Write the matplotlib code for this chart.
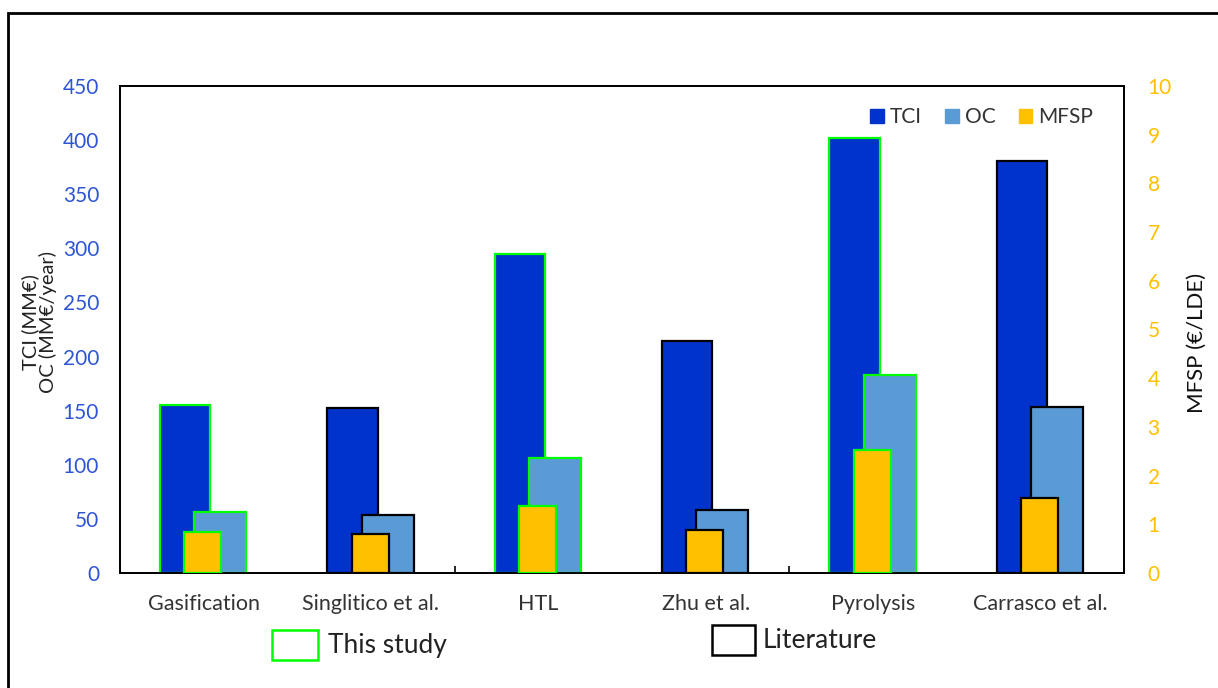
import matplotlib.pyplot as plt
from matplotlib.patches import Patch, Rectangle
import numpy as np

plt.rcParams['font.family'] = ['Lato', 'DejaVu Sans']

# data
categories = ["Gasification", "Singlitico et al.", "HTL", "Zhu et al.", "Pyrolysis", "Carrasco et al."]
tci = [155, 152, 295, 214, 402, 381]
oc = [56, 54, 106, 58, 183, 153]
mfsp = [0.84, 0.80, 1.38, 0.88, 2.53, 1.54]
this_study = [True, False, True, False, True, False]

c_tci = "#0033CC"
c_oc = "#5B9BD5"
c_mfsp = "#FFC000"
c_green = "#00FF00"

x = np.arange(len(categories))
edges = [c_green if s else "black" for s in this_study]

fig = plt.figure(figsize=(12.18, 6.88), dpi=100)
ax = fig.add_axes([0.0985, 0.1672, 0.8243, 0.7078])

ax.bar(x - 0.11, tci, width=0.30, color=c_tci, edgecolor=edges, linewidth=1.6, zorder=2)
ax.bar(x + 0.10, oc, width=0.31, color=c_oc, edgecolor=edges, linewidth=1.6, zorder=3)
ax.set_ylim(0, 450)
ax.set_xlim(-0.5, len(categories) - 0.5)
ax.set_yticks(np.arange(0, 451, 50))
ax.tick_params(axis="y", length=0, pad=15, labelsize=15, labelcolor="#2F55D4")

ax.set_xticks(x)
ax.set_xticklabels(categories)
ax.tick_params(axis="x", length=0, pad=15, labelsize=15.5, labelcolor="#333333")
# category boundary ticks every two groups
ax.set_xticks([-0.5, 1.5, 3.5, 5.5], minor=True)
ax.tick_params(axis="x", which="minor", direction="in", length=5, width=1.2)

ax2 = ax.twinx()
ax2.bar(x - 0.005, mfsp, width=0.22, color=c_mfsp, edgecolor=edges, linewidth=1.6, zorder=4)
ax2.set_ylim(0, 10)
ax2.set_yticks(np.arange(0, 11, 1))
ax2.tick_params(axis="y", length=0, pad=17, labelsize=15, labelcolor=c_mfsp)

for a in (ax, ax2):
    for sp in a.spines.values():
        sp.set_linewidth(1.3)
        sp.set_color("black")

handles = [Patch(color=c_tci, label="TCI"), Patch(color=c_oc, label="OC"), Patch(color=c_mfsp, label="MFSP")]
ax2.legend(handles=handles, ncol=3, frameon=False, loc="center right",
           bbox_to_anchor=(0.988, 0.936), handlelength=0.65, handleheight=0.65,
           handletextpad=0.3, columnspacing=1.1, fontsize=15, labelcolor="#333333")

fig.text(0.032, 0.532, "TCI (MM€)\nOC (MM€/year)", rotation=90, ha="center", va="center",
         fontsize=14.5, color="#222222", linespacing=1.0)
fig.text(0.983, 0.501, "MFSP (€/LDE)", rotation=90, ha="center", va="center",
         fontsize=16, color="#111111")

# bottom legend for edge colours
fig.patches.append(Rectangle((272 / 1218, 1 - 660 / 688), 46 / 1218, 30 / 688,
                             transform=fig.transFigure, fill=False, edgecolor=c_green, linewidth=1.8))
fig.text(328 / 1218, 1 - 646 / 688, "This study", ha="left", va="center", fontsize=19, color="#222222")
fig.patches.append(Rectangle((712 / 1218, 1 - 655 / 688), 43 / 1218, 30 / 688,
                             transform=fig.transFigure, fill=False, edgecolor="black", linewidth=1.8))
fig.text(763 / 1218, 1 - 641 / 688, "Literature", ha="left", va="center", fontsize=19, color="#222222")

# outer frame
fig.patches.append(Rectangle((8 / 1218, -0.05), 1.1, 1 - 13 / 688 + 0.05,
                             transform=fig.transFigure, fill=False, edgecolor="black", linewidth=2))

fig.savefig("out.png", dpi=100)
